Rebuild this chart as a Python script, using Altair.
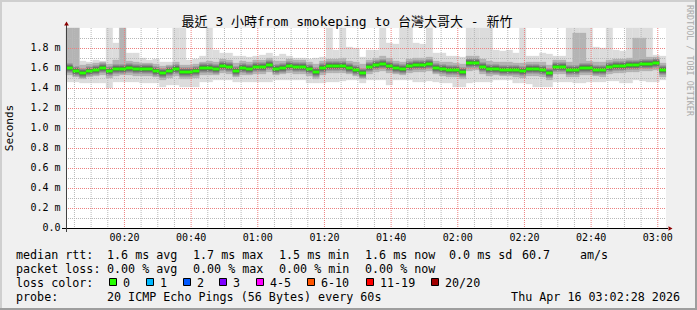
import altair as alt
import pandas as pd

# ---------------- data ----------------
START_MIN = 2 + 28 / 60          # 00:02:28
STEP_MIN = 2                     # one smoke column every 2 minutes
SPAN_MIN = 180                   # 3 hours

median = [1.60, 1.57, 1.55, 1.57, 1.58, 1.60, 1.57, 1.59, 1.59, 1.60,
          1.59, 1.59, 1.59, 1.57, 1.55, 1.57, 1.59, 1.56, 1.56, 1.57,
          1.60, 1.60, 1.59, 1.62, 1.61, 1.57, 1.60, 1.59, 1.61, 1.61,
          1.63, 1.59, 1.60, 1.62, 1.61, 1.61, 1.59, 1.56, 1.60, 1.62,
          1.62, 1.62, 1.60, 1.58, 1.55, 1.61, 1.63, 1.64, 1.62, 1.60,
          1.59, 1.62, 1.63, 1.63, 1.64, 1.60, 1.59, 1.58, 1.58, 1.56,
          1.65, 1.65, 1.61, 1.59, 1.59, 1.58, 1.58, 1.58, 1.57, 1.59,
          1.59, 1.58, 1.55, 1.61, 1.61, 1.58, 1.58, 1.60, 1.60, 1.58,
          1.58, 1.61, 1.62, 1.62, 1.63, 1.63, 1.64, 1.64, 1.65, 1.58]

smoke_max = [2.00, 2.00, 1.67, 1.66, 1.68, 1.67, 2.00, 1.85, 2.00, 1.75,
             1.75, 1.70, 1.68, 1.69, 1.66, 1.66, 2.00, 2.00, 1.68, 1.69,
             1.72, 2.00, 1.78, 1.75, 1.75, 1.72, 1.72, 1.71, 1.72, 1.73,
             1.75, 1.72, 1.74, 1.72, 1.70, 1.70, 1.69, 1.70, 1.71, 2.00,
             1.78, 2.00, 1.81, 1.80, 1.71, 1.78, 1.78, 2.00, 1.85, 1.84,
             2.00, 2.00, 1.85, 1.84, 2.00, 1.75, 1.75, 1.72, 1.72, 1.71,
             2.00, 2.00, 2.00, 2.00, 1.78, 1.77, 1.78, 1.75, 2.00, 1.72,
             1.72, 1.75, 1.74, 1.72, 1.72, 2.00, 2.00, 2.00, 2.00, 1.81,
             1.80, 2.00, 1.78, 1.77, 2.00, 2.00, 2.00, 2.00, 1.73, 1.72]

smoke_min = [1.46, 1.46, 1.45, 1.45, 1.45, 1.45, 1.40, 1.46, 1.46, 1.46,
             1.46, 1.45, 1.45, 1.45, 1.41, 1.43, 1.43, 1.41, 1.41, 1.41,
             1.46, 1.46, 1.48, 1.48, 1.48, 1.46, 1.46, 1.46, 1.46, 1.46,
             1.46, 1.48, 1.48, 1.48, 1.48, 1.48, 1.45, 1.45, 1.45, 1.46,
             1.46, 1.47, 1.48, 1.48, 1.45, 1.48, 1.48, 1.48, 1.43, 1.48,
             1.48, 1.48, 1.46, 1.46, 1.47, 1.46, 1.45, 1.45, 1.41, 1.41,
             1.45, 1.46, 1.46, 1.46, 1.48, 1.48, 1.48, 1.45, 1.45, 1.44,
             1.41, 1.41, 1.41, 1.46, 1.46, 1.46, 1.45, 1.45, 1.46, 1.46,
             1.46, 1.47, 1.47, 1.45, 1.45, 1.48, 1.47, 1.46, 1.46, 1.48]

smoke_q_hi = [2.00, 2.00, 1.63, 1.64, 1.65, 1.66, 1.64, 1.68, 2.00, 1.67,
              1.66, 1.65, 1.65, 1.64, 1.62, 1.63, 1.66, 1.63, 1.63, 1.64,
              1.66, 1.67, 1.66, 1.69, 1.68, 1.65, 1.67, 1.66, 1.68, 1.68,
              1.70, 1.67, 1.67, 1.69, 1.68, 1.68, 1.66, 1.64, 1.67, 1.69,
              1.69, 1.70, 1.67, 1.66, 1.64, 1.68, 1.70, 1.72, 1.70, 1.67,
              1.66, 1.69, 1.70, 1.70, 1.71, 1.67, 1.66, 1.66, 1.65, 1.64,
              1.72, 1.72, 1.69, 1.67, 1.66, 1.66, 1.66, 1.65, 1.65, 1.66,
              1.66, 1.66, 1.63, 1.68, 1.68, 1.66, 1.95, 1.95, 1.67, 1.66,
              1.66, 1.68, 1.69, 1.69, 1.70, 1.90, 1.90, 1.71, 1.71, 1.65]

smoke_q_lo = [1.53, 1.51, 1.49, 1.51, 1.52, 1.53, 1.50, 1.52, 1.53, 1.53,
              1.52, 1.52, 1.52, 1.51, 1.48, 1.50, 1.52, 1.49, 1.49, 1.50,
              1.53, 1.53, 1.53, 1.55, 1.54, 1.51, 1.53, 1.53, 1.54, 1.54,
              1.56, 1.53, 1.54, 1.55, 1.54, 1.54, 1.52, 1.49, 1.53, 1.55,
              1.55, 1.55, 1.54, 1.52, 1.49, 1.54, 1.56, 1.57, 1.55, 1.54,
              1.53, 1.55, 1.56, 1.56, 1.57, 1.54, 1.52, 1.51, 1.51, 1.49,
              1.57, 1.58, 1.54, 1.52, 1.53, 1.52, 1.52, 1.51, 1.50, 1.52,
              1.52, 1.51, 1.48, 1.54, 1.54, 1.51, 1.51, 1.53, 1.53, 1.52,
              1.51, 1.54, 1.55, 1.55, 1.56, 1.56, 1.57, 1.57, 1.58, 1.51]

y_major = [0.0, 0.2, 0.4, 0.6, 0.8, 1.0, 1.2, 1.4, 1.6, 1.8]
y_labels = ["0.0", "0.2 m", "0.4 m", "0.6 m", "0.8 m", "1.0 m",
            "1.2 m", "1.4 m", "1.6 m", "1.8 m"]
y_minor = [0.1, 0.3, 0.5, 0.7, 0.9, 1.1, 1.3, 1.5, 1.7, 1.9]
x_major = [20, 40, 60, 80, 100, 120, 140, 160, 180]
x_labels = ["00:20", "00:40", "01:00", "01:20", "01:40",
            "02:00", "02:20", "02:40", "03:00"]
x_minor = [5, 10, 15, 25, 30, 35, 45, 50, 55, 65, 70, 75, 85, 90, 95,
           105, 110, 115, 125, 130, 135, 145, 150, 155, 165, 170, 175]

title_text = "最近 3 小時from smokeping to 台灣大哥大 - 新竹"
rtt_items = ["median rtt:", "1.6 ms avg", "1.7 ms max", "1.5 ms min",
             "1.6 ms now", "0.0 ms sd", "60.7", "am/s"]
loss_items = ["packet loss:", "0.00 % avg", "0.00 % max", "0.00 % min", "0.00 % now"]
loss_labels = ["0", "1", "2", "3", "4-5", "6-10", "11-19", "20/20"]
loss_colors = ["#26ff00", "#00b8ff", "#0059ff", "#7e00ff",
               "#ff00ff", "#ff5500", "#ff0000", "#a10000"]
probe_text = "20 ICMP Echo Pings (56 Bytes) every 60s"
stamp_text = "Thu Apr 16 03:02:28 2026"

# ---------------- layout ----------------
W, H = 600, 200
PAD_L, PAD_T = 66, 28
PAD_R, PAD_B = 697 - PAD_L - W, 310 - PAD_T - H
MONO = "DejaVu Sans Mono"
TITLE_FONT = "DejaVu Sans Mono, Noto Sans CJK TC"

n = len(median)
df = pd.DataFrame({
    "t0": [START_MIN + STEP_MIN * i for i in range(n)],
    "t1": [START_MIN + STEP_MIN * (i + 1) for i in range(n)],
    "med": median, "lo": smoke_min, "hi": smoke_max,
    "qlo": smoke_q_lo, "qhi": smoke_q_hi,
})

xs = alt.Scale(domain=[START_MIN, START_MIN + SPAN_MIN], nice=False, zero=False)
ys = alt.Scale(domain=[0, 2.0], nice=False, zero=True)


def X(f):
    return alt.X(f, scale=xs, axis=None)


def Y(f):
    return alt.Y(f, scale=ys, axis=None)


base = alt.Chart(df)

outer = base.mark_rect(color="#dcdcdc", stroke="#dcdcdc", strokeWidth=0.3).encode(
    x=X("t0:Q"), x2="t1", y=Y("lo:Q"), y2="hi")
mid = base.mark_rect(color="#b4b4b4", stroke="#b4b4b4", strokeWidth=0.3).encode(
    x=X("t0:Q"), x2="t1", y=Y("qlo:Q"), y2="qhi")
core1 = base.mark_rule(color="#8a8a8a", strokeWidth=9).encode(
    x=X("t0:Q"), x2="t1", y=Y("med:Q"))
core2 = base.mark_rule(color="#5a5a5a", strokeWidth=5).encode(
    x=X("t0:Q"), x2="t1", y=Y("med:Q"))

GRID_MINOR = "#b8b8b8"
GRID_MAJOR = "#ec8080"

gx_minor = alt.Chart(pd.DataFrame({"gxm": x_minor})).mark_rule(
    color=GRID_MINOR, strokeDash=[1, 1], strokeWidth=1).encode(
    x=X("gxm:Q"), y=alt.value(0), y2=alt.value(H))
gx_major = alt.Chart(pd.DataFrame({"gxM": x_major})).mark_rule(
    color=GRID_MAJOR, strokeDash=[1, 1], strokeWidth=1).encode(
    x=X("gxM:Q"), y=alt.value(0), y2=alt.value(H))
gy_minor = alt.Chart(pd.DataFrame({"gym": y_minor})).mark_rule(
    color=GRID_MINOR, strokeDash=[1, 1], strokeWidth=1, yOffset=0.5).encode(
    y=Y("gym:Q"), x=alt.value(0), x2=alt.value(W))
gy_major = alt.Chart(pd.DataFrame({"gyM": y_major[1:]})).mark_rule(
    color=GRID_MAJOR, strokeDash=[1, 1], strokeWidth=1, yOffset=0.5).encode(
    y=Y("gyM:Q"), x=alt.value(0), x2=alt.value(W))

green = base.mark_rule(color="#26ff00", strokeWidth=3).encode(
    x=X("t0:Q"), x2="t1", y=Y("med:Q"))

one = pd.DataFrame({"k": [0]})


def px(x):
    return alt.value(x - PAD_L)


def py(y):
    return alt.value(y - PAD_T)


# tick labels drawn through the scales
x_tick_text = alt.Chart(pd.DataFrame({"xv": x_major, "lab": x_labels})).mark_text(
    font=MONO, fontSize=10, align="center", baseline="middle", color="#000000").encode(
    x=X("xv:Q"), y=py(237.5), text="lab:N")
y_tick_text = alt.Chart(pd.DataFrame({"yv": y_major, "lab": y_labels})).mark_text(
    font=MONO, fontSize=10, align="right", baseline="middle", color="#000000").encode(
    y=Y("yv:Q"), x=px(60.5), text="lab:N")


def text_at(s, x, y, size=11.7, align="left", color="#000000", angle=0,
            font=MONO, baseline="middle"):
    return alt.Chart(one).mark_text(
        text=s.replace(" ", "\u00a0"), align=align, baseline=baseline,
        fontSize=size, font=font, color=color, angle=angle).encode(x=px(x), y=py(y))


def hline(x1, x2, y, color, width=1):
    return alt.Chart(one).mark_rule(color=color, strokeWidth=width).encode(
        x=px(x1), x2=px(x2), y=py(y))


def vline(x, y1, y2, color, width=1):
    return alt.Chart(one).mark_rule(color=color, strokeWidth=width).encode(
        x=px(x), y=py(y1), y2=py(y2))


deco = [
    # axes
    hline(62, 668, 228.5, "#000000"),
    vline(66.5, 232, 24, "#404040"),
    alt.Chart(one).mark_point(shape="triangle-up", filled=True, color="#8b0000",
                              size=22, opacity=1).encode(x=px(66.5), y=py(23.5)),
    alt.Chart(one).mark_point(shape="triangle-right", filled=True, color="#8b0000",
                              size=22, opacity=1).encode(x=px(670.5), y=py(228.5)),
    # frame
    hline(0, 697, 1, "#cfcfcf", 2),
    vline(1, 0, 310, "#cfcfcf", 2),
    hline(0, 697, 309, "#9e9e9e", 2),
    vline(696, 0, 310, "#9e9e9e", 2),
    # titles
    text_at(title_text, 347, 21.5, size=13, align="center", font=TITLE_FONT),
    text_at("Seconds", 10, 128, size=11, align="center", angle=270),
    text_at("RRDTOOL / TOBI OETIKER", 689.5, 5, size=8.4, align="left",
            color="#aaaaaa", angle=90),
]

# legend line 1: median rtt
rtt_x = [16, 107, 193, 279, 365, 449, 522, 580]
for s, xx in zip(rtt_items, rtt_x):
    deco.append(text_at(s, xx, 254.5))
# legend line 2: packet loss
loss_x = [16, 107, 193, 279, 365]
for s, xx in zip(loss_items, loss_x):
    deco.append(text_at(s, xx, 268.5))
# legend line 3: loss colours
deco.append(text_at("loss color:", 16, 282.5))
label_x = [123, 160, 197, 233, 270, 321, 380, 445]
for lab, col, xx in zip(loss_labels, loss_colors, label_x):
    deco.append(alt.Chart(one).mark_rect(color=col, stroke="#000000", strokeWidth=1).encode(
        x=px(xx - 13.5), x2=px(xx - 6.5), y=py(278.5), y2=py(285.5)))
    deco.append(text_at(lab, xx, 282.5))
# legend line 4: probe
deco.append(text_at("probe:", 16, 296.5))
deco.append(text_at(probe_text, 107, 296.5))
deco.append(text_at(stamp_text, 680, 296.5, align="right"))

chart = alt.layer(outer, mid, core1, core2, gx_minor, gy_minor, gx_major, gy_major,
                  green, x_tick_text, y_tick_text, *deco).properties(
    width=W, height=H,
    autosize=alt.AutoSizeParams(type="none"),
    padding={"left": PAD_L, "top": PAD_T, "right": PAD_R, "bottom": PAD_B},
    background="#f0f0f0",
).configure_view(fill="white", stroke=None)

chart.save("out.html", embed_options={"renderer": "svg", "actions": False})
